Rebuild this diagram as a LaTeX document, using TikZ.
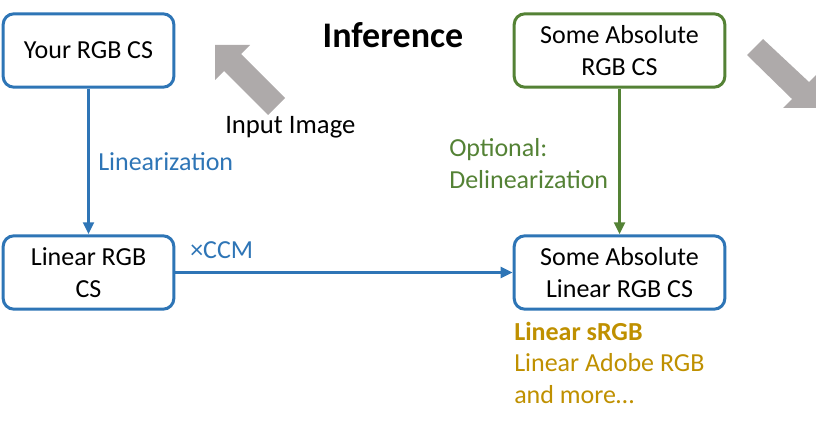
\documentclass[tikz,border=0pt]{standalone}
\usepackage{fontspec}
\setmainfont{Carlito}
\usetikzlibrary{arrows.meta, positioning}
\definecolor{csblue}{HTML}{2E75B6}
\definecolor{csgreen}{HTML}{548235}
\definecolor{csgold}{HTML}{BF9000}
\definecolor{csgray}{HTML}{AEAAAA}

\begin{document}
\begin{tikzpicture}[x=0.75pt,y=-0.75pt,
 csbox/.style={draw=csblue,line width=2.25pt,rounded corners=8pt,align=center,
 inner sep=0pt,minimum height=55pt,fill=white,font=\fontsize{19.5}{24}\selectfont},
 flow/.style={line width=2.25pt,-{Triangle[length=9pt,width=8pt]}},
 lbl/.style={anchor=west,align=left,inner sep=0pt,font=\fontsize{19.5}{24}\selectfont},
 bigarrow/.style={fill=csgray,draw=none}]
 \clip (0,0) rectangle (816,427);

 % colour spaces
 \node[csbox,minimum width=128pt] (yourcs) at (88.5,50.5) {Your RGB CS};
 \node[csbox,minimum width=128pt] (lincs) at (88.5,272.5) {Linear RGB\\CS};
 \node[csbox,draw=csgreen,minimum width=158pt] (abscs) at (619.5,50.5) {Some Absolute\\RGB CS};
 \node[csbox,minimum width=158pt] (abslin) at (619.5,272.5) {Some Absolute\\Linear RGB CS};

 \draw[flow,csblue] (yourcs) -- (lincs);
 \draw[flow,csgreen] (abscs) -- (abslin);
 \draw[flow,csblue] (lincs) -- (abslin);

 \node[lbl,text=csblue] (linlbl) at (98,162) {Linearization};
 \node[lbl,text=csgreen] (delinlbl) at (449,164) {Optional:\\Delinearization};
 \node[lbl,text=csblue] (ccmlbl) at (190,250) {×CCM};

 \node[font=\fontsize{27}{30}\selectfont\bfseries] (title) at (393,35) {Inference};
 \node[lbl,font=\fontsize{20}{24}\selectfont] (input) at (225,127) {Input Image};

 % examples
 \node[lbl,anchor=north west,text=csgold,font=\fontsize{19.5}{23.5}\selectfont]
 (examples) at (514,322) {\textbf{Linear sRGB}\\Linear Adobe RGB\\and more\dots};

 % gray block arrows
 \fill[bigarrow] (215,45) -- (250,45) -- (241,54) -- (285,98) -- (268,115)
 -- (224,71) -- (215,80) -- cycle;
 \fill[bigarrow] (818,108) -- (783,108) -- (792,99) -- (747,55) -- (763,39)
 -- (809,82) -- (818,73) -- cycle;
\end{tikzpicture}
\end{document}
